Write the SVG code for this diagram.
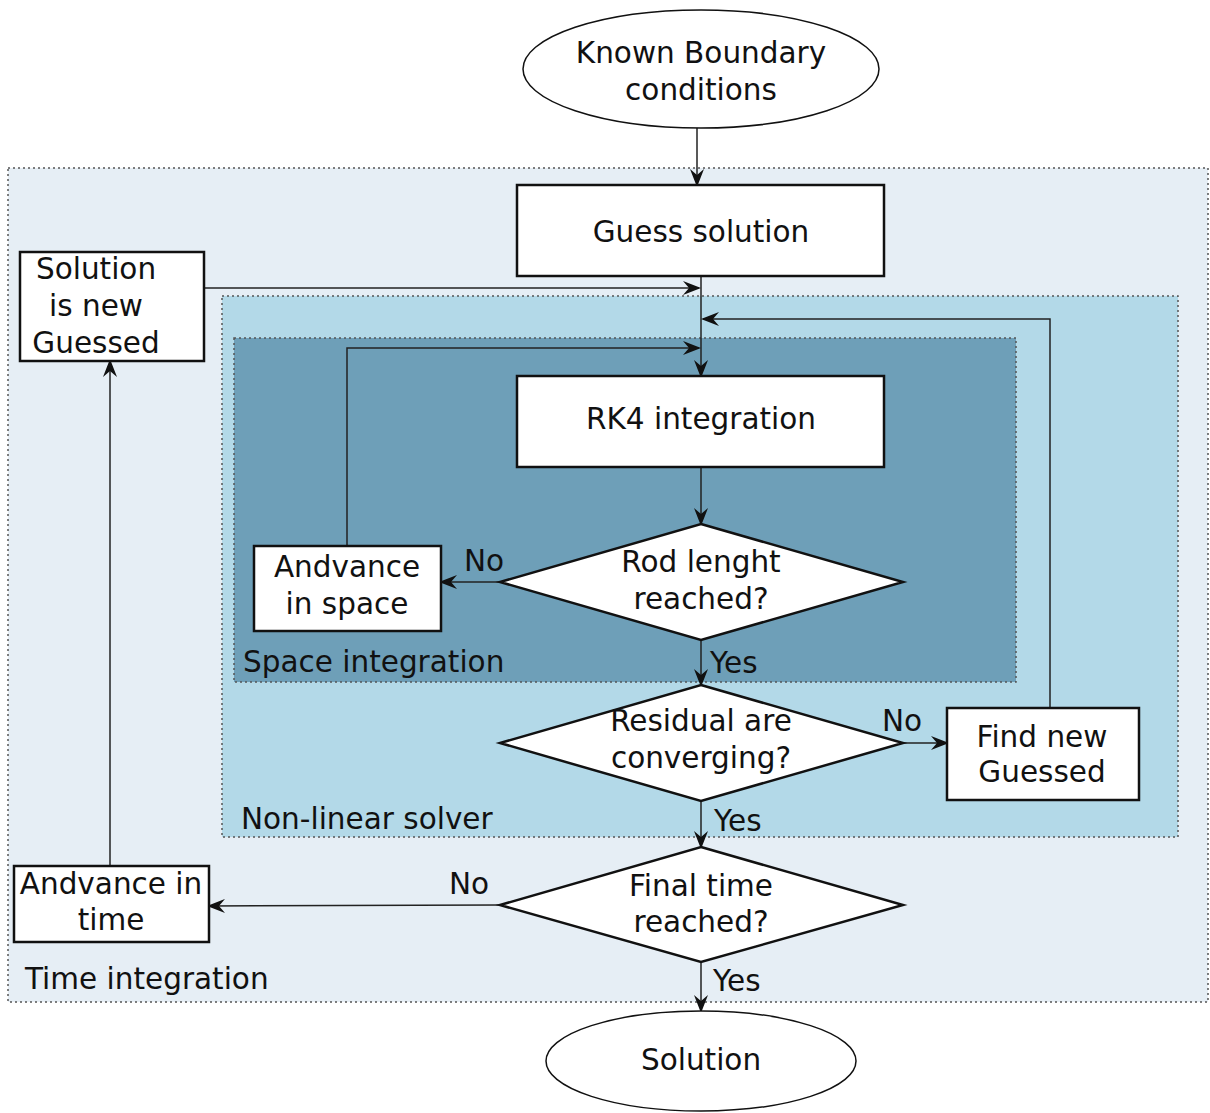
<svg xmlns="http://www.w3.org/2000/svg" width="1210" height="1113" viewBox="0 0 1210 1113">
<style>
text{font-family:"DejaVu Sans","Verdana",sans-serif;font-size:29.5px;fill:#111;}
.c{text-anchor:middle;}
.node{fill:#fff;stroke:#111;stroke-width:2.5;}
.ell{fill:#fff;stroke:#111;stroke-width:1.5;}
.reg{stroke:#555;stroke-width:1.5;stroke-dasharray:2 3;}
.con{fill:none;stroke:#222;stroke-width:1.5;marker-end:url(#ah);}
</style>
<defs>
<marker id="ah" markerWidth="18" markerHeight="14" refX="16" refY="7" orient="auto" markerUnits="userSpaceOnUse">
<path d="M0,0 L18,7 L0,14 L6,7 Z" fill="#111"/>
</marker>
</defs>
<rect width="1210" height="1113" fill="#fff"/>
<g id="regions">
<rect id="time-integration" class="reg" x="8" y="168" width="1200" height="834" fill="#e6eef5"/>
<rect id="nonlinear-solver" class="reg" x="222" y="296" width="956" height="541" fill="#b3d9e8"/>
<rect id="space-integration" class="reg" x="234" y="338" width="782" height="344" fill="#6e9fb8"/>
<text x="243" y="672">Space integration</text>
<text x="241" y="829">Non-linear solver</text>
<text x="25" y="989">Time integration</text>
</g>
<g id="connectors">
<path class="con" d="M697,128 V185"/>
<path class="con" d="M701,276 V376"/>
<path class="con" d="M204,288 H699"/>
<path class="con" d="M1050,708 V319 H703"/>
<path class="con" d="M347,546 V348 H699"/>
<path class="con" d="M701,467 V524"/>
<path class="con" d="M500,582 H441"/>
<path class="con" d="M701,640 V685"/>
<path class="con" d="M903,743 H947"/>
<path class="con" d="M701,801 V847"/>
<path class="con" d="M500,905 L209,906"/>
<path class="con" d="M110,866 V361"/>
<path class="con" d="M701,962 V1011"/>
<text x="484" y="571" class="c">No</text>
<text x="710" y="673">Yes</text>
<text x="902" y="731" class="c">No</text>
<text x="714" y="831">Yes</text>
<text x="469" y="894" class="c">No</text>
<text x="713" y="991">Yes</text>
</g>
<g id="known-boundary">
<ellipse class="ell" cx="701" cy="69" rx="178" ry="59"/>
<text x="701" y="63" class="c">Known Boundary</text>
<text x="701" y="100" class="c">conditions</text>
</g>
<g id="guess-solution">
<rect class="node" x="517" y="185" width="367" height="91"/>
<text x="701" y="242" class="c">Guess solution</text>
</g>
<g id="solution-new-guessed">
<rect class="node" x="20" y="252" width="184" height="109"/>
<text x="96" y="279" class="c">Solution</text>
<text x="96" y="316" class="c">is new</text>
<text x="96" y="353" class="c">Guessed</text>
</g>
<g id="rk4">
<rect class="node" x="517" y="376" width="367" height="91"/>
<text x="701" y="429" class="c">RK4 integration</text>
</g>
<g id="rod-length">
<polygon class="node" points="701,524 903,582 701,640 500,582"/>
<text x="701" y="572" class="c">Rod lenght</text>
<text x="701" y="609" class="c">reached?</text>
</g>
<g id="advance-space">
<rect class="node" x="254" y="546" width="187" height="85"/>
<text x="347" y="577" class="c">Andvance</text>
<text x="347" y="614" class="c">in space</text>
</g>
<g id="residual">
<polygon class="node" points="701,685 903,743 701,801 500,743"/>
<text x="701" y="731" class="c">Residual are</text>
<text x="701" y="768" class="c">converging?</text>
</g>
<g id="find-new-guessed">
<rect class="node" x="947" y="708" width="192" height="92"/>
<text x="1042" y="747" class="c">Find new</text>
<text x="1042" y="782" class="c">Guessed</text>
</g>
<g id="final-time">
<polygon class="node" points="701,847 903,905 701,962 500,905"/>
<text x="701" y="896" class="c">Final time</text>
<text x="701" y="932" class="c">reached?</text>
</g>
<g id="advance-time">
<rect class="node" x="14" y="866" width="195" height="76"/>
<text x="111" y="894" class="c">Andvance in</text>
<text x="111" y="930" class="c">time</text>
</g>
<g id="solution">
<ellipse class="ell" cx="701" cy="1061" rx="155" ry="50"/>
<text x="701" y="1070" class="c">Solution</text>
</g>
</svg>
